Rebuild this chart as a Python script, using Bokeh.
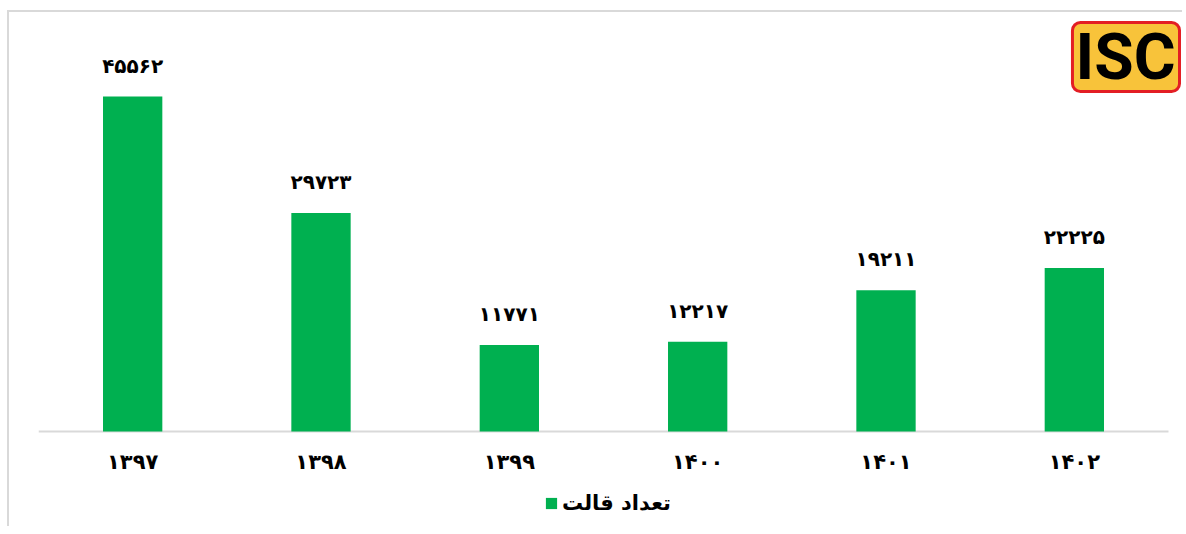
from bokeh.plotting import figure
from bokeh.models import (Range1d, FixedTicker, Legend, LegendItem, BoxAnnotation,
                          Label, ColumnDataSource)
from bokeh.core.properties import value
from bokeh.embed import file_html
from bokeh.resources import INLINE

# ---- data ----
categories = ["۱۳۹۷", "۱۳۹۸", "۱۳۹۹", "۱۴۰۰", "۱۴۰۱", "۱۴۰۲"]
values = [45562, 29723, 11771, 12217, 19211, 22225]
series_name = "تعداد قالت"

FA = str.maketrans("0123456789", "۰۱۲۳۴۵۶۷۸۹")
idx = list(range(len(categories)))
labels = [str(v).translate(FA) for v in values]

src = ColumnDataSource(dict(x=idx, top=values, lab=labels))

FONT = "DejaVu Sans"
GREEN = "#00B050"

# frame covers the whole drawing area; the x axis is pinned at y=0 inside it
p = figure(frame_width=1144, frame_height=514, output_backend="svg", toolbar_location=None,
           x_range=Range1d(-0.5, 5.5743), y_range=Range1d(-12921, 56987),
           min_border_left=29, min_border_right=0, min_border_top=0,
           min_border_bottom=0)
p.styles = {"margin-left": "7px", "margin-top": "10px",
            "border-left": "2px solid #d9d9d9", "border-top": "2px solid #d9d9d9"}
p.outline_line_color = None
p.xgrid.grid_line_color = None
p.ygrid.grid_line_color = None
p.yaxis.visible = False
p.background_fill_color = "white"
p.border_fill_color = "white"

# baseline under the categories
p.segment(x0=[idx[0] - 0.5], x1=[idx[-1] + 0.5], y0=[0], y1=[0],
          line_color="#d9d9d9", line_width=2)

bars = p.vbar(x="x", top="top", width=0.315, bottom=0, source=src,
              fill_color=GREEN, line_color=None)

p.text(x="x", y="top", text="lab", source=src, y_offset=-31,
       text_align="center", text_baseline="middle",
       text_font=value(FONT), text_font_size="20px",
       text_font_style="bold", text_color="black")

ax = p.xaxis[0]
ax.fixed_location = 0
ax.ticker = FixedTicker(ticks=idx)
ax.major_label_overrides = {i: c for i, c in zip(idx, categories)}
ax.axis_line_color = None
ax.major_tick_line_color = None
ax.minor_tick_line_color = None
ax.major_tick_out = 0
ax.major_tick_in = 0
ax.major_label_standoff = 19
ax.major_label_text_font = FONT
ax.major_label_text_font_size = "21px"
ax.major_label_text_font_style = "bold"
ax.major_label_text_color = "black"

legend = Legend(items=[LegendItem(label=series_name, renderers=[bars])],
                location=(506, 11), orientation="horizontal",
                glyph_width=14, glyph_height=14, label_standoff=4,
                label_text_font=FONT, label_text_font_size="21px",
                label_text_font_style="bold", label_text_color="black",
                border_line_color=None, background_fill_alpha=0,
                padding=4, margin=0)
p.add_layout(legend)

# ---- ISC logo ----
logo = BoxAnnotation(left=4.99, right=5.5585, top=55626, bottom=46242,
                     fill_color="#F8C33A", fill_alpha=1.0,
                     line_color="#E31E24", line_alpha=1.0, line_width=3,
                     border_radius=8)
p.add_layout(logo)
p.add_layout(Label(x=5.2718, y=50866, text="ISC", text_align="center",
                   text_baseline="middle", text_font="Roboto",
                   text_font_size="64px", text_font_style="bold",
                   text_color="black"))

open("out.html", "w").write(file_html(p, INLINE))
